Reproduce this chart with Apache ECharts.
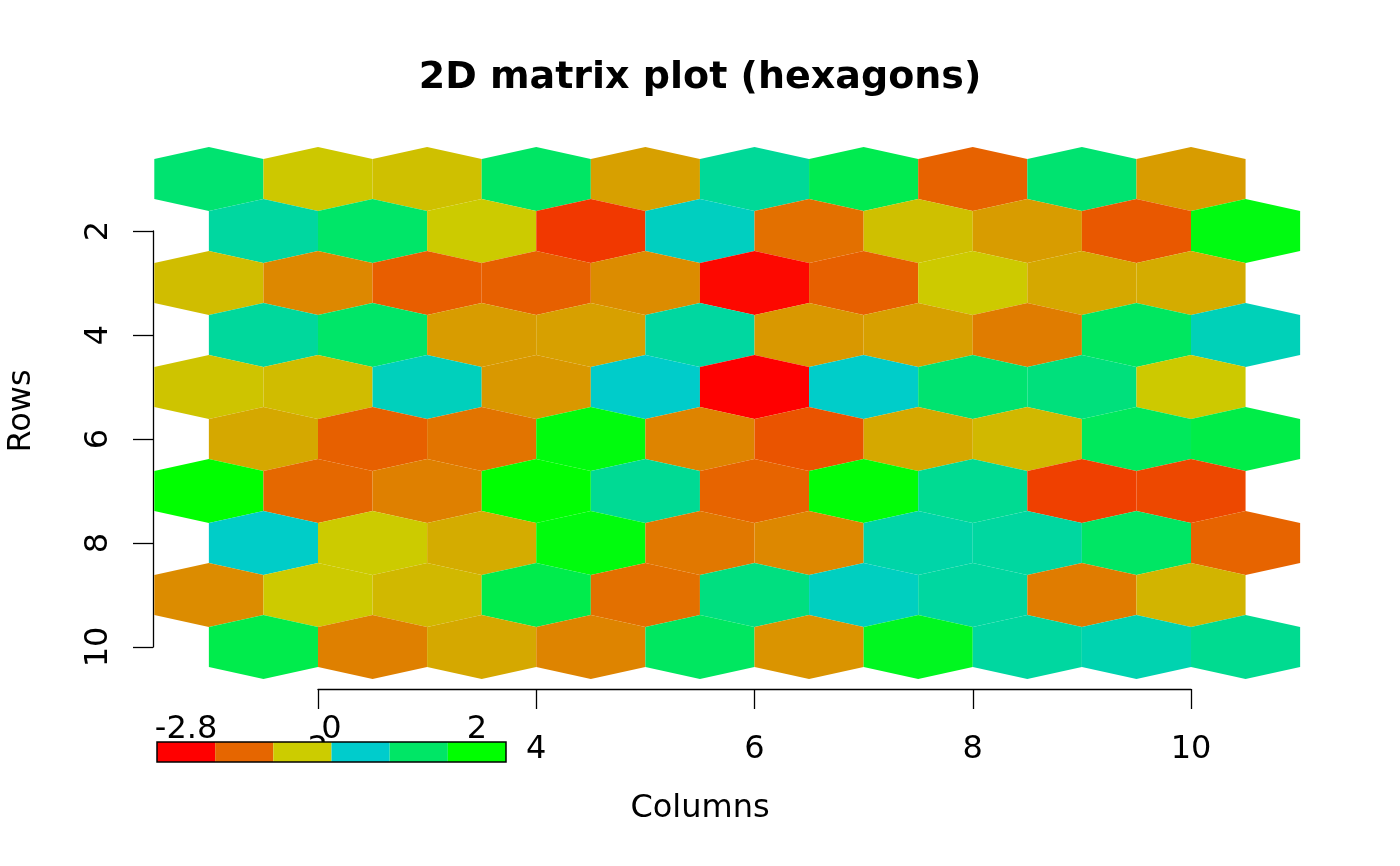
<!DOCTYPE html>
<html>
<head>
<meta charset="utf-8">
<script src="https://cdn.jsdelivr.net/npm/echarts@6/dist/echarts.min.js"></script>
<style>
  html, body { margin: 0; padding: 0; background: #fff; }
  #chart { width: 1400px; height: 866px; }
</style>
</head>
<body>
<div id="chart"></div>
<script>
// matrix values, one array per row (row 1 at top), 10 columns each
const columns = [1, 2, 3, 4, 5, 6, 7, 8, 9, 10];
const rows = [1, 2, 3, 4, 5, 6, 7, 8, 9, 10];
const values = [
  [1.08, -0.05, -0.17, 1.22, -0.60, 0.61, 1.46, -1.45, 1.08, -0.66],
  [0.52, 1.18, -0.02, -2.03, 0.14, -1.26, -0.16, -0.66, -1.59, 2.20],
  [-0.20, -0.93, -1.51, -1.48, -0.88, -2.69, -1.48, -0.03, -0.49, -0.44],
  [0.56, 1.18, -0.66, -0.60, 0.52, -0.71, -0.60, -1.10, 1.27, 0.24],
  [-0.11, -0.22, 0.19, -0.71, 0.02, -2.80, 0.03, 1.08, 0.94, -0.04],
  [-0.49, -1.48, -1.21, 2.25, -0.99, -1.65, -0.49, -0.27, 1.32, 1.55],
  [2.40, -1.37, -1.04, 2.38, 0.66, -1.43, 2.33, 0.68, -1.92, -1.81],
  [0.05, -0.02, -0.44, 2.25, -1.15, -0.93, 0.42, 0.52, 1.22, -1.43],
  [-0.88, -0.03, -0.27, 1.51, -1.26, 0.89, 0.14, 0.52, -1.10, -0.33],
  [1.51, -1.04, -0.49, -0.99, 1.27, -0.77, 2.02, 0.52, 0.33, 0.71]
];
const xTicks = [2, 4, 6, 8, 10];
const yTicks = [2, 4, 6, 8, 10];

const valueMin = -2.8;
const valueMax = 2.4;
const rampNegative = ['#ff0000', '#e66600', '#cccc00'];
const rampPositive = ['#00cccc', '#00e666', '#00ff00'];

const legendColors = ['#ff0000', '#e66600', '#cccc00', '#00cccc', '#00e666', '#00ff00'];
const legendLabels = ['-2.8', '0', '2'];
const legendLabelAt = [0.5, 3, 5.5];

const FONT = 'DejaVu Sans';

function hexToRgb(h) {
  return [parseInt(h.slice(1, 3), 16), parseInt(h.slice(3, 5), 16), parseInt(h.slice(5, 7), 16)];
}
function ramp(stops, t) {
  t = Math.max(0, Math.min(1, t));
  const p = t * (stops.length - 1);
  const i = Math.min(Math.floor(p), stops.length - 2);
  const f = p - i;
  const a = hexToRgb(stops[i]), b = hexToRgb(stops[i + 1]);
  const c = a.map((v, k) => Math.round(v + (b[k] - v) * f));
  return 'rgb(' + c.join(',') + ')';
}
function colorFor(v) {
  if (v < 0) return ramp(rampNegative, (v - valueMin) / (0 - valueMin));
  return ramp(rampPositive, v / valueMax);
}

// cells: [col, row, value]
const cells = [];
rows.forEach((r, ri) => {
  columns.forEach((c, ci) => {
    cells.push([c, r, values[ri][ci]]);
  });
});

const chart = echarts.init(document.getElementById('chart'));

const axisText = { color: '#000', fontSize: 32, fontFamily: FONT };

chart.setOption({
  animation: false,
  backgroundColor: '#fff',
  grid: [
    { left: 154.3, right: 45.3, top: 153, bottom: 193 },   // hexagons
    { left: 318, right: 209, top: 600, bottom: 177 },       // x axis
    { left: 153, right: 1200, top: 231, bottom: 219 },      // y axis
    { left: 157, width: 349, top: 742, height: 20 }         // colour key
  ],
  xAxis: [
    { gridIndex: 0, type: 'value', min: 0.5, max: 11.5, show: false },
    {
      gridIndex: 1, type: 'value', min: 2, max: 10, interval: 2, position: 'bottom',
      splitLine: { show: false },
      axisLine: { show: true, lineStyle: { color: '#000', width: 1.3 } },
      axisTick: { show: true, length: 20, lineStyle: { color: '#000', width: 1.3 } },
      axisLabel: Object.assign({ margin: 45 }, axisText)
    },
    { gridIndex: 2, type: 'value', min: 0, max: 1, show: false },
    {
      gridIndex: 3, type: 'value', min: 0, max: 6, interval: 0.5, position: 'top',
      splitLine: { show: false }, axisLine: { show: false }, axisTick: { show: false },
      axisLabel: Object.assign({
        margin: -4,
        formatter: function (val) {
          for (let i = 0; i < legendLabelAt.length; i++) {
            if (Math.abs(legendLabelAt[i] - val) < 1e-6) return legendLabels[i];
          }
          return '';
        }
      }, axisText)
    }
  ],
  yAxis: [
    { gridIndex: 0, type: 'value', min: 0.5, max: 10.5, inverse: true, show: false },
    { gridIndex: 1, type: 'value', min: 0, max: 1, show: false },
    {
      gridIndex: 2, type: 'value', min: 2, max: 10, interval: 2, inverse: true, position: 'left',
      splitLine: { show: false },
      axisLine: { show: true, lineStyle: { color: '#000', width: 1.3 } },
      axisTick: { show: true, length: 20, lineStyle: { color: '#000', width: 1.3 } },
      axisLabel: Object.assign({ margin: 38, rotate: 90 }, axisText)
    },
    { gridIndex: 3, type: 'value', min: 0, max: 1, show: false }
  ],
  series: [
    {
      type: 'custom',
      xAxisIndex: 0, yAxisIndex: 0,
      clip: false,
      silent: true,
      data: cells,
      encode: { x: 0, y: 1 },
      renderItem: function (params, api) {
        const col = api.value(0), row = api.value(1), v = api.value(2);
        const cx = col + (row % 2 === 0 ? 0.5 : 0);
        const pts = [
          [cx, row - 0.615], [cx + 0.5, row - 0.385], [cx + 0.5, row + 0.385],
          [cx, row + 0.615], [cx - 0.5, row + 0.385], [cx - 0.5, row - 0.385]
        ].map(p => api.coord(p));
        return {
          type: 'polygon',
          shape: { points: pts },
          style: { fill: colorFor(v), stroke: null }
        };
      }
    },
    { type: 'line', xAxisIndex: 1, yAxisIndex: 1, data: [] },
    { type: 'line', xAxisIndex: 2, yAxisIndex: 2, data: [] },
    {
      type: 'custom',
      xAxisIndex: 3, yAxisIndex: 3,
      silent: true,
      z: 5,
      data: legendColors.map((c, i) => [i]),
      renderItem: function (params, api) {
        const i = api.value(0);
        const a = api.coord([i, 1]);
        const b = api.coord([i + 1, 0]);
        return {
          type: 'rect',
          shape: { x: a[0], y: a[1], width: b[0] - a[0], height: b[1] - a[1] },
          style: { fill: legendColors[params.dataIndex], stroke: null }
        };
      }
    }
  ],
  graphic: [
    {
      type: 'text', x: 700, y: 78, z: 10,
      style: {
        text: '2D matrix plot (hexagons)', fill: '#000',
        font: 'bold 38px "DejaVu Sans"', textAlign: 'center', textVerticalAlign: 'middle'
      }
    },
    {
      type: 'text', x: 700, y: 809, z: 10,
      style: {
        text: 'Columns', fill: '#000',
        font: '32px "DejaVu Sans"', textAlign: 'center', textVerticalAlign: 'middle'
      }
    },
    {
      type: 'text', x: 22, y: 411, rotation: Math.PI / 2, z: 10,
      style: {
        text: 'Rows', fill: '#000',
        font: '32px "DejaVu Sans"', textAlign: 'center', textVerticalAlign: 'middle'
      }
    },
    {
      type: 'rect', z: 100,
      shape: { x: 157, y: 742, width: 349, height: 20 },
      style: { fill: null, stroke: '#000', lineWidth: 1.5 }
    }
  ]
});
</script>
</body>
</html>
